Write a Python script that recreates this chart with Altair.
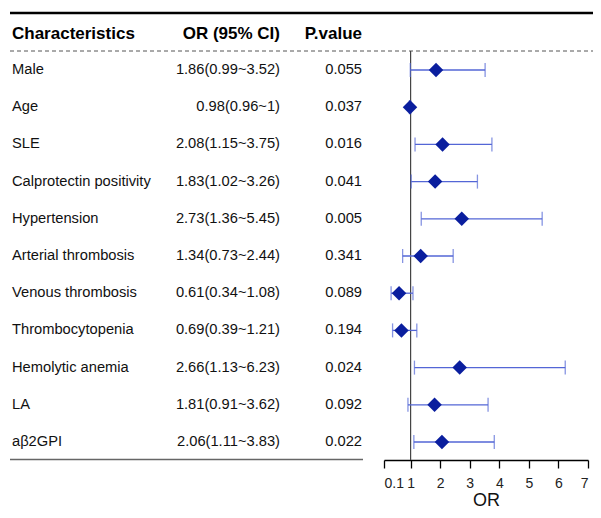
import altair as alt
import pandas as pd

names = ["Male", "Age", "SLE", "Calprotectin positivity", "Hypertension",
         "Arterial thrombosis", "Venous thrombosis", "Thrombocytopenia",
         "Hemolytic anemia", "LA", "aβ2GPI"]
or_vals = [1.86, 0.98, 2.08, 1.83, 2.73, 1.34, 0.61, 0.69, 2.66, 1.81, 2.06]
lo_vals = [0.99, 0.96, 1.15, 1.02, 1.36, 0.73, 0.34, 0.39, 1.13, 0.91, 1.11]
hi_vals = [3.52, 1.00, 3.75, 3.26, 5.45, 2.44, 1.08, 1.21, 6.23, 3.62, 3.83]
p_vals = ["0.055", "0.037", "0.016", "0.041", "0.005", "0.341", "0.089",
          "0.194", "0.024", "0.092", "0.022"]
tick_values = [0.1, 1, 2, 3, 4, 5, 6, 7]

df = pd.DataFrame({
    "name": names,
    "or": or_vals,
    "lo": lo_vals,
    "hi": hi_vals,
    "p": p_vals,
})
df["ci"] = [f"{o:g}({l:g}~{h:g})" for o, l, h in zip(or_vals, lo_vals, hi_vals)]

FONT = "Liberation Sans"
W, H = 585, 452
xscale = alt.Scale(domain=[0.1, 7], range=[376, 580], nice=False, zero=False)
xaxis = alt.Axis(values=tick_values, format="~g", title="OR", grid=False,
                 tickSize=8, tickColor="#000", tickWidth=1.3,
                 domainColor="#000", domainWidth=1.3,
                 labelFontSize=14, labelColor="#222", labelPadding=8,
                 labelFont=FONT, titleFont=FONT, titleFontSize=18,
                 titleFontWeight="normal", titleColor="#111",
                 titleY=45, titleBaseline="alphabetic")
yscale = alt.Scale(type="point", domain=names, range=[62, 434], padding=0)


def X(field):
    return alt.X(field, type="quantitative", scale=xscale, axis=xaxis)


def Y():
    return alt.Y("name:N", scale=yscale, axis=None)


base = alt.Chart(df)

txt_name = base.mark_text(align="left", baseline="middle", font=FONT,
                          fontSize=14.7, color="#111").encode(
    x=alt.value(4), y=Y(), text="name:N")
txt_ci = base.mark_text(align="right", baseline="middle", font=FONT,
                        fontSize=14.7, color="#111").encode(
    x=alt.value(272), y=Y(), text="ci:N")
txt_p = base.mark_text(align="right", baseline="middle", font=FONT,
                       fontSize=14.7, color="#111").encode(
    x=alt.value(354), y=Y(), text="p:N")

headers = pd.DataFrame({"h": ["Characteristics", "OR (95% CI)", "P.value"]})
hdr1 = alt.Chart(headers.iloc[[0]]).mark_text(
    align="left", baseline="middle", font=FONT, fontSize=17,
    fontWeight="bold", color="#000").encode(x=alt.value(4), y=alt.value(25.5), text="h:N")
hdr2 = alt.Chart(headers.iloc[[1]]).mark_text(
    align="right", baseline="middle", font=FONT, fontSize=17,
    fontWeight="bold", color="#000").encode(x=alt.value(272), y=alt.value(25.5), text="h:N")
hdr3 = alt.Chart(headers.iloc[[2]]).mark_text(
    align="right", baseline="middle", font=FONT, fontSize=17,
    fontWeight="bold", color="#000").encode(x=alt.value(354), y=alt.value(25.5), text="h:N")

top_line = alt.Chart(headers.iloc[[0]]).mark_rule(color="#000", strokeWidth=2.5).encode(
    x=alt.value(2), x2=alt.value(W), y=alt.value(5))
dash_line = alt.Chart(headers.iloc[[0]]).mark_rule(
    color="#555", strokeWidth=1, strokeDash=[4, 3]).encode(
    x=alt.value(2), x2=alt.value(W), y=alt.value(43))
bottom_line = alt.Chart(headers.iloc[[0]]).mark_rule(color="#666", strokeWidth=1.5).encode(
    x=alt.value(2), x2=alt.value(355), y=alt.value(451.5))

ref = alt.Chart(pd.DataFrame({"ref": [1]})).mark_rule(
    color="#444", strokeWidth=1.2).encode(
    x=X("ref"), y=alt.value(43), y2=alt.value(452))

bars = base.mark_rule(color="#5366D6", strokeWidth=1.3).encode(
    x=X("lo"), x2="hi:Q", y=Y())
cap_lo = base.mark_tick(color="#5366D6", thickness=1.3, size=14,
                        orient="vertical").encode(x=X("lo"), y=Y())
cap_hi = base.mark_tick(color="#5366D6", thickness=1.3, size=14,
                        orient="vertical").encode(x=X("hi"), y=Y())
pts = base.mark_point(shape="diamond", filled=True, size=210, opacity=1,
                      color="#0A1E9E").encode(x=X("or"), y=Y())

chart = alt.layer(
    top_line, dash_line, bottom_line,
    hdr1, hdr2, hdr3,
    txt_name, txt_ci, txt_p,
    ref, bars, cap_lo, cap_hi, pts,
).properties(
    width=W, height=H,
    padding={"left": 0, "top": 0, "right": 0, "bottom": 50},
    autosize="none",
).configure_view(stroke=None)

chart.save("out.html", embed_options={"renderer": "svg", "actions": False})
